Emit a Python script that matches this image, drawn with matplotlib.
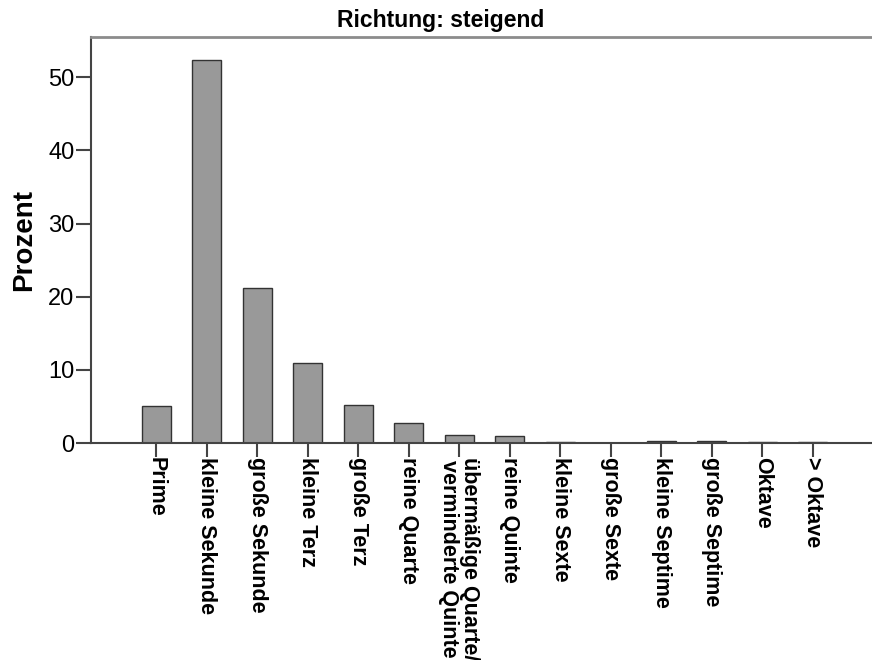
import matplotlib
matplotlib.use("Agg")
import matplotlib.pyplot as plt
import numpy as np

plt.rcParams['font.family'] = ['Liberation Sans', 'DejaVu Sans']

categories = ["Prime", "kleine Sekunde", "große Sekunde", "kleine Terz", "große Terz",
              "reine Quarte", "übermäßige Quarte/\nverminderte Quinte", "reine Quinte",
              "kleine Sexte", "große Sexte", "kleine Septime", "große Septime",
              "Oktave", "> Oktave"]
prozent = [5.0, 52.3, 21.2, 10.9, 5.2, 2.7, 1.1, 0.9, 0.1, 0.05, 0.3, 0.25, 0.2, 0.1]
y_ticks = [0, 10, 20, 30, 40, 50]

fig = plt.figure(figsize=(8.72, 6.6), dpi=100)
ax = fig.add_axes([91 / 872, 1 - 443 / 660, 781 / 872, (443 - 37) / 660])

x = np.arange(len(categories))
ax.bar(x, prozent, width=0.57, color="#999999", edgecolor="#333333", linewidth=1.0, zorder=2)

ax.set_xlim(-1.29, 14.17)
ax.set_ylim(0, 55.5)
ax.set_yticks(y_ticks)
ax.set_yticklabels([str(t) for t in y_ticks], fontsize=17)
ax.set_xticks(x)
ax.set_xticklabels(categories, rotation=270, fontsize=15.5, fontweight="bold",
                   va="top", ha="center", linespacing=1.0)

ax.tick_params(axis="y", length=10.5, width=1.5, color="#444444", pad=1.5)
ax.tick_params(axis="x", length=10, width=1.5, color="#444444", pad=0)

for side in ("left", "bottom"):
    ax.spines[side].set_color("#444444")
    ax.spines[side].set_linewidth(1.5)
ax.spines["top"].set_color("#8c8c8c")
ax.spines["top"].set_linewidth(2)
ax.spines["right"].set_visible(False)

ax.set_ylabel("Prozent", fontsize=20, fontweight="bold", labelpad=8)
fig.text(441 / 872, 1 - 27 / 660, "Richtung: steigend", fontsize=16.5,
         fontweight="bold", ha="center", va="baseline")

fig.savefig("out.png", dpi=100)
